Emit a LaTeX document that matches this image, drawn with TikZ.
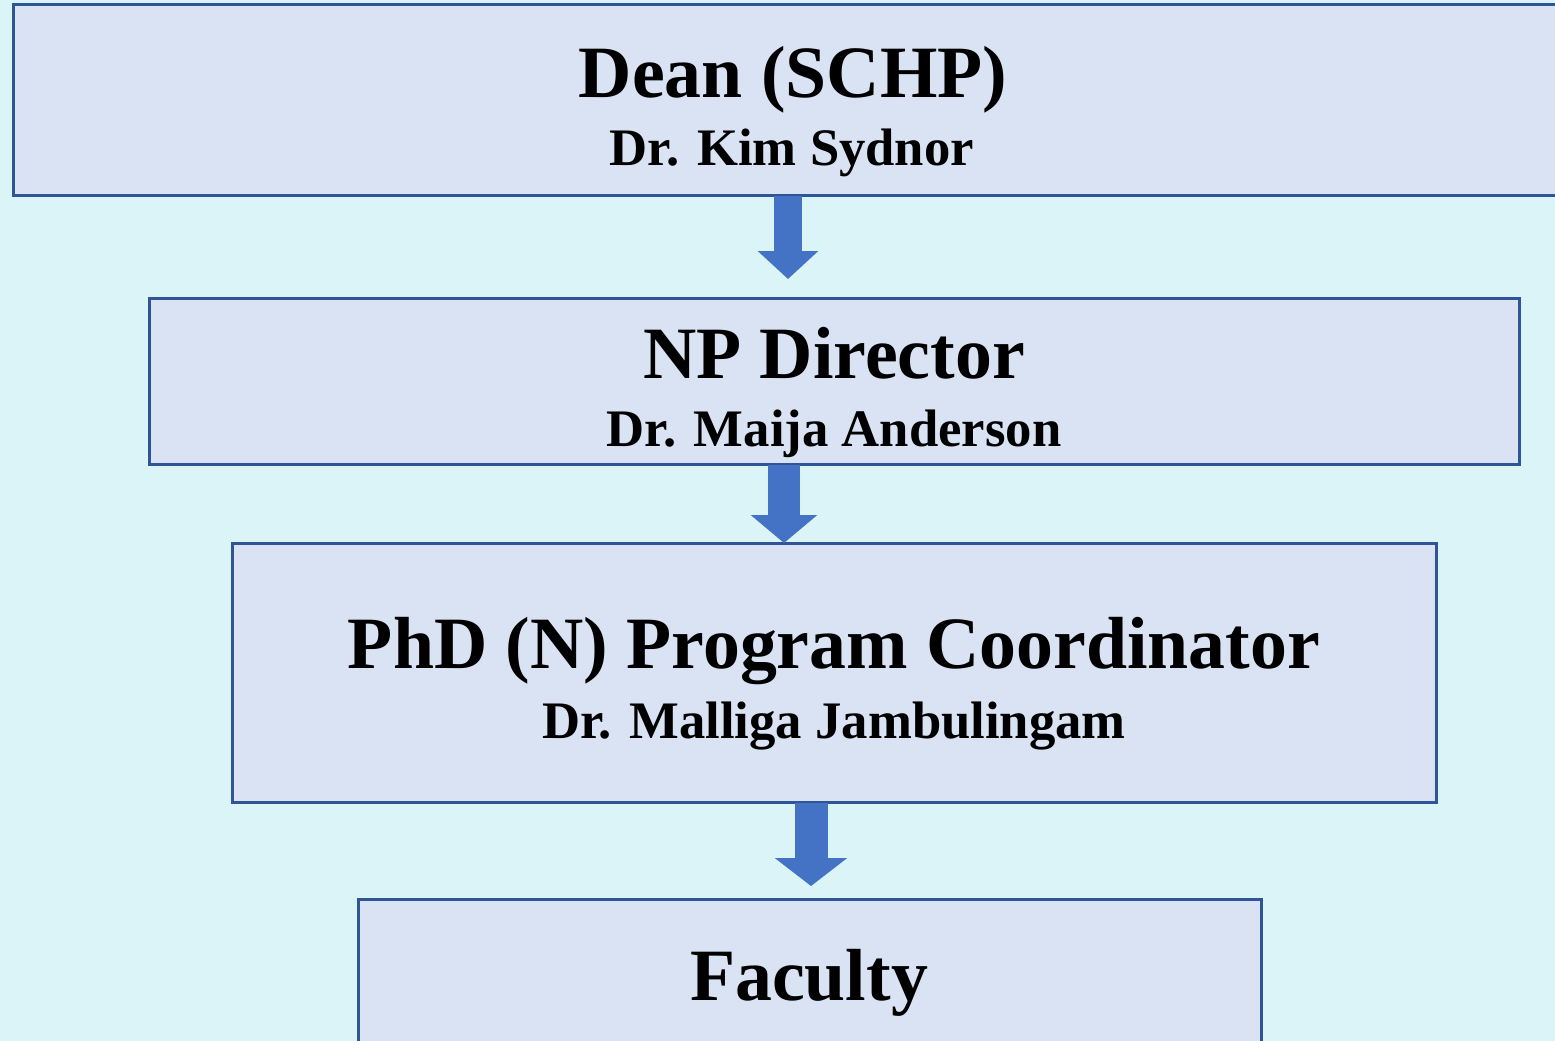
\documentclass[tikz,border=0pt]{standalone}
\usepackage{fontspec}
\setmainfont{Liberation Serif}
\usetikzlibrary{arrows.meta}
\definecolor{bgcyan}{HTML}{DAF4F8}
\definecolor{boxfill}{HTML}{DAE3F3}
\definecolor{boxline}{HTML}{2F5597}
\definecolor{arrowblue}{HTML}{4472C4}
\begin{document}
\begin{tikzpicture}[x=0.02cm, y=-0.02cm]
                \tikzstyle{box}=[rectangle, draw=boxline, fill=boxfill, line width=1.7pt, outer sep=0pt, inner sep=0pt]
                \tikzstyle{roletext}=[anchor=base, font=\bfseries\fontsize{42}{50}\selectfont]
                \tikzstyle{persontext}=[anchor=base, font=\bfseries\fontsize{30}{36}\selectfont]
                \tikzstyle{flow}=[line width=0.56cm, draw=arrowblue, -{Triangle[width=1.18cm, length=0.56cm]}]

                    % Fundo
                    \useasboundingbox (0,0) rectangle (1555,1041);
                    \fill[bgcyan] (0,0) rectangle (1555,1041);

                    % Caixas
                    \node[box, minimum width=31.74cm, minimum height=3.84cm] (dean) at (806.5,100) {};
                    \node[box, minimum width=27.42cm, minimum height=3.34cm] (np) at (834.5,381.5) {};
                    \node[box, minimum width=24.1cm, minimum height=5.2cm] (phd) at (834.5,673) {};
                    \node[box, minimum width=18.08cm, minimum height=3.62cm] (fac) at (810,989.5) {};

                    % Textos
                    \node[roletext] (deant) at (793,97) {Dean (SCHP)};
                    \node[persontext] (deann) at (792,165) {Dr. Kim Sydnor};
                    \node[roletext] (npt) at (834,378) {NP Director};
                    \node[persontext] (npn) at (834,446) {Dr. Maija Anderson};
                    \node[roletext] (phdt) at (834,668) {PhD (N) Program Coordinator};
                    \node[persontext] (phdn) at (834,738) {Dr. Malliga Jambulingam};
                    \node[roletext] (fact) at (809,1000) {Faculty};

                    % Setas
                    \draw[flow, shorten >=0.38cm] (dean.south -| 788,0) -- (np.north -| 788,0);
                    \draw[flow, line width=0.64cm, -{Triangle[width=1.3cm, length=0.56cm]}] (np.south -| 784,0) -- (phd.north -| 784,0);
                    \draw[flow, line width=0.66cm, -{Triangle[width=1.42cm, length=0.56cm]}, shorten >=0.26cm] (phd.south -| 811,0) -- (fac.north -| 811,0);
\end{tikzpicture}
\end{document}
